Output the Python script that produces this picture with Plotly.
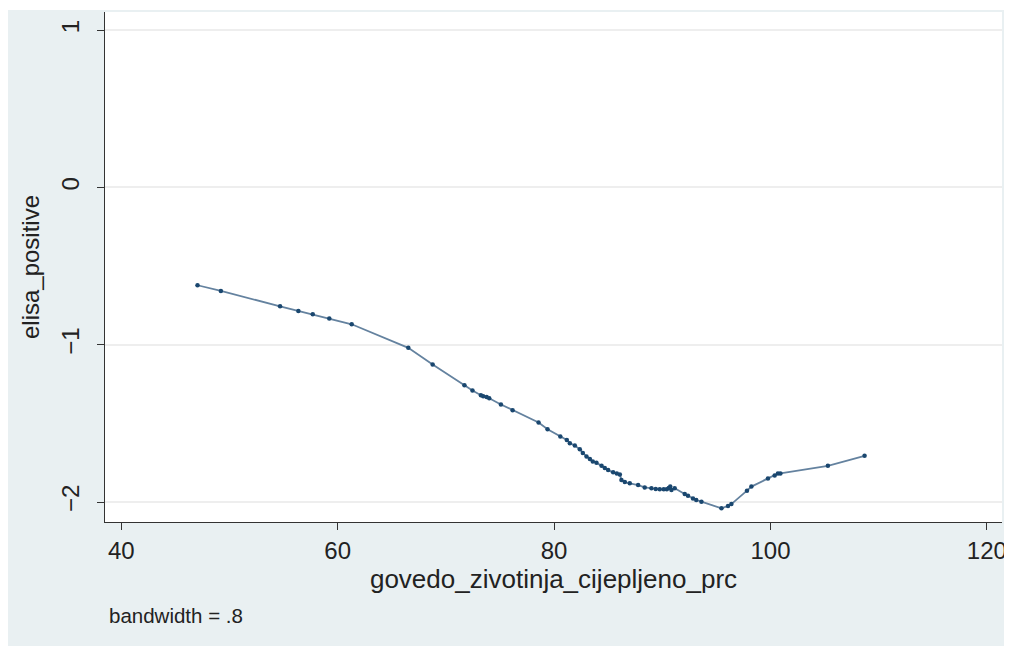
import plotly.graph_objects as go

# Data (lowess smooth of elisa_positive vs vaccination %)
vacc_pct = [47.05, 49.21, 54.68, 56.37, 57.70, 59.23, 61.30, 66.53, 68.78, 71.72,
            72.46, 73.24, 73.45, 73.77, 74.01, 75.09, 76.17, 78.57, 79.40, 80.58,
            81.18, 81.46, 81.92, 82.38, 82.66, 83.00, 83.31, 83.58, 83.92, 84.39,
            84.69, 85.00, 85.46, 85.80, 86.08, 86.23, 86.54, 87.00, 87.77, 88.38,
            89.00, 89.40, 89.77, 90.14, 90.42, 90.60, 90.74, 90.85, 91.15, 92.08,
            92.38, 92.84, 93.14, 93.62, 95.47, 96.08, 96.39, 97.83, 98.24, 99.77,
            100.39, 100.69, 100.92, 105.31, 108.70]
elisa_smooth = [-0.622, -0.658, -0.756, -0.785, -0.806, -0.834, -0.870, -1.020, -1.126, -1.257,
                -1.291, -1.321, -1.327, -1.333, -1.340, -1.380, -1.416, -1.494, -1.537, -1.584,
                -1.606, -1.627, -1.641, -1.665, -1.689, -1.711, -1.727, -1.743, -1.750, -1.770,
                -1.784, -1.797, -1.811, -1.819, -1.825, -1.860, -1.873, -1.881, -1.892, -1.907,
                -1.913, -1.917, -1.919, -1.919, -1.919, -1.911, -1.902, -1.924, -1.913, -1.949,
                -1.960, -1.977, -1.987, -1.998, -2.040, -2.025, -2.013, -1.928, -1.902, -1.850,
                -1.832, -1.819, -1.818, -1.770, -1.706]

x_ticks = [40, 60, 80, 100, 120]
y_ticks = [1, 0, -1, -2]
x_title = "govedo_zivotinja_cijepljeno_prc"
y_title = "elisa_positive"
note_text = "bandwidth = .8"

# the page body adds an 8px offset, so the figure is sized to fill the rest
W, H = 1004, 642
ML, MR, MT, MB = 97, 10, 4, 128
BG = "#e9f0f2"
FONT = "Liberation Sans, Arial, Helvetica, sans-serif"

fig = go.Figure()
fig.add_trace(go.Scatter(
    x=vacc_pct, y=elisa_smooth, mode="lines+markers",
    line=dict(color="#64829f", width=1.8),
    marker=dict(color="#1a476f", size=4.5),
    showlegend=False, hoverinfo="skip",
))

pw = W - ML - MR
ph = H - MT - MB
# outer Stata-like graph region
fig.add_shape(type="rect", xref="paper", yref="paper", layer="below",
              x0=-ML / pw, x1=(W - ML) / pw,
              y0=-(H - 4 - MT - ph) / ph, y1=(H - 2 - MB) / ph,
              fillcolor=BG, line=dict(width=0))
# white plot region
fig.add_shape(type="rect", xref="paper", yref="paper", layer="below",
              x0=0, x1=1, y0=0, y1=1,
              fillcolor="white", line=dict(width=0))

fig.add_annotation(text=note_text, xref="paper", yref="paper",
                   x=(99 - ML) / pw, y=-(607 - MT - ph) / ph,
                   xanchor="left", yanchor="middle", showarrow=False,
                   font=dict(family=FONT, size=20.5, color="#222222"))

fig.update_layout(
    width=W, height=H,
    margin=dict(l=ML, r=MR, t=MT, b=MB, autoexpand=False),
    paper_bgcolor="white", plot_bgcolor="white",
    font=dict(family=FONT, color="#222222"),
    xaxis=dict(range=[38.5, 121.4], tickvals=x_ticks, ticks="outside", ticklen=7,
               tickcolor="#333333", showline=True, linecolor="#333333", linewidth=1.3,
               showgrid=False, zeroline=False, tickfont=dict(size=24), automargin=False,
               title=dict(text=x_title, font=dict(size=26), standoff=6)),
    yaxis=dict(range=[-2.127, 1.115], tickvals=y_ticks, ticks="outside", ticklen=7,
               tickcolor="#333333", showline=True, linecolor="#333333", linewidth=1.3,
               showgrid=True, gridcolor="#eeeeee", gridwidth=1.5, zeroline=False,
               tickangle=-90, tickfont=dict(size=24), ticklabelstandoff=8, automargin=False,
               title=dict(text=y_title, font=dict(size=24), standoff=10)),
)

fig.write_html("out.html")
